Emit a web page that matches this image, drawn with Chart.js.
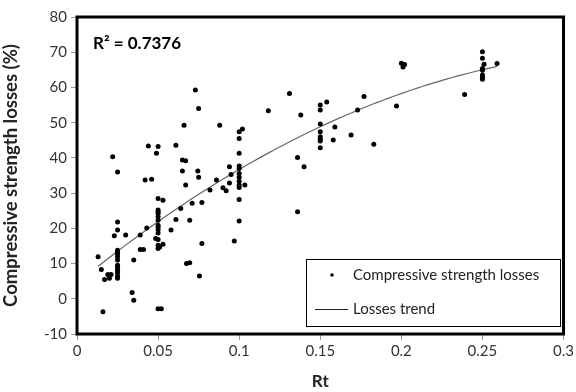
<!DOCTYPE html>
<html>
<head>
<meta charset="utf-8">
<script src="https://cdn.jsdelivr.net/npm/chart.js@4"></script>
<style>
  html, body { margin: 0; padding: 0; background: #fff; }
  #wrap { width: 576px; height: 392px; }
</style>
</head>
<body>
<div id="wrap"><canvas id="c" width="576" height="392"></canvas></div>
<script>
// Rt values (x) and compressive strength losses in % (y)
const rtValues = [
  0.013, 0.015, 0.016, 0.017, 0.019, 0.020, 0.021, 0.022, 0.023, 0.025,
  0.025, 0.025, 0.025, 0.025, 0.025, 0.025, 0.025, 0.025, 0.025, 0.025,
  0.025, 0.025, 0.025, 0.030, 0.034, 0.035, 0.035, 0.039, 0.041, 0.039,
  0.043, 0.042, 0.046, 0.044, 0.050, 0.049, 0.0485, 0.050, 0.050, 0.050,
  0.050, 0.050, 0.050, 0.050, 0.050, 0.050, 0.050, 0.050, 0.050, 0.050,
  0.053, 0.053, 0.051, 0.050, 0.052, 0.058, 0.061, 0.061, 0.064, 0.065,
  0.067, 0.065, 0.067, 0.066, 0.0675, 0.0695, 0.0695, 0.071, 0.073, 0.075,
  0.0745, 0.075, 0.0755, 0.077, 0.077, 0.082, 0.086, 0.088, 0.090, 0.092,
  0.094, 0.095, 0.094, 0.097, 0.100, 0.102, 0.100, 0.100, 0.100, 0.100,
  0.100, 0.100, 0.100, 0.100, 0.100, 0.100, 0.100, 0.1035, 0.118, 0.131,
  0.136, 0.136, 0.138, 0.140, 0.150, 0.150, 0.150, 0.150, 0.150, 0.150,
  0.150, 0.150, 0.154, 0.159, 0.158, 0.169, 0.173, 0.177, 0.183, 0.197,
  0.200, 0.201, 0.202, 0.239, 0.250, 0.250, 0.251, 0.250, 0.250, 0.250,
  0.250, 0.250, 0.259
];
const lossValues = [
  11.9, 8.3, -3.7, 5.5, 6.9, 5.8, 6.9, 40.3, 17.9, 36.0,
  21.8, 19.5, 13.8, 13.3, 12.7, 11.9, 11.0, 9.5, 8.9, 8.1,
  7.4, 6.5, 5.8, 18.1, 1.8, -0.4, 11.0, 14.0, 14.0, 18.1,
  20.1, 33.7, 33.9, 43.4, 43.2, 41.3, 17.1, 28.5, 25.2, 24.7,
  24.2, 23.3, 22.3, 20.9, 20.4, 19.7, 18.7, 16.8, 15.2, 14.3,
  28.0, 15.5, 14.7, -2.8, -2.8, 19.5, 22.5, 43.6, 25.6, 39.4,
  39.2, 36.3, 32.3, 49.3, 10.0, 10.2, 22.3, 27.1, 59.3, 54.0,
  36.3, 34.5, 6.5, 27.3, 15.7, 30.9, 33.7, 49.3, 31.5, 30.7,
  37.5, 35.3, 32.9, 16.4, 47.4, 48.2, 45.5, 41.3, 37.7, 37.0,
  35.6, 34.5, 33.4, 32.3, 31.6, 28.2, 22.1, 32.3, 53.4, 58.3,
  40.1, 24.7, 52.2, 37.5, 55.0, 53.6, 49.6, 47.4, 46.0, 45.3,
  44.8, 42.9, 55.9, 48.8, 45.1, 46.5, 53.6, 57.4, 43.9, 54.7,
  66.9, 65.8, 66.5, 58.0, 70.1, 68.3, 66.6, 65.4, 64.9, 63.5,
  62.9, 62.3, 66.8
];
const xTicks = [0, 0.05, 0.1, 0.15, 0.2, 0.25, 0.3];
const yTicks = [-10, 0, 10, 20, 30, 40, 50, 60, 70, 80];
const r2Label = 'R² = 0.7376';

const points = rtValues.map((x, i) => ({ x, y: lossValues[i] }));

// 2nd order least-squares trend, like the spreadsheet trendline
function quadFit(xs, ys) {
  let s = [0, 0, 0, 0, 0], t = [0, 0, 0];
  xs.forEach((x, i) => {
    for (let k = 0; k < 5; k++) s[k] += Math.pow(x, k);
    for (let k = 0; k < 3; k++) t[k] += ys[i] * Math.pow(x, k);
  });
  const m = [[s[0], s[1], s[2], t[0]], [s[1], s[2], s[3], t[1]], [s[2], s[3], s[4], t[2]]];
  for (let i = 0; i < 3; i++) {
    for (let j = i + 1; j < 3; j++) {
      const f = m[j][i] / m[i][i];
      for (let k = i; k < 4; k++) m[j][k] -= f * m[i][k];
    }
  }
  const c = [0, 0, 0];
  for (let i = 2; i >= 0; i--) {
    let v = m[i][3];
    for (let k = i + 1; k < 3; k++) v -= m[i][k] * c[k];
    c[i] = v / m[i][i];
  }
  return c;
}
const coef = quadFit(rtValues, lossValues);
const xMin = Math.min(...rtValues), xMax = Math.max(...rtValues);
const trend = [];
for (let i = 0; i <= 40; i++) {
  const x = xMin + (xMax - xMin) * i / 40;
  trend.push({ x, y: coef[0] + coef[1] * x + coef[2] * x * x });
}

const FONT = 'Lato, "Open Sans", sans-serif';

const framePlugin = {
  id: 'frame',
  afterDraw(chart) {
    const { ctx, chartArea: a } = chart;
    ctx.save();
    ctx.strokeStyle = '#000';
    ctx.lineWidth = 3;
    ctx.strokeRect(a.left, a.top, a.right - a.left, a.bottom - a.top);

    // R² label
    ctx.fillStyle = '#000';
    ctx.font = 'bold 17px ' + FONT;
    ctx.textBaseline = 'middle';
    ctx.fillText(r2Label, 93, 44);

    // legend box
    ctx.lineWidth = 1;
    ctx.fillStyle = '#fff';
    ctx.fillRect(306.5, 259.5, 254, 67);
    ctx.strokeStyle = '#000';
    ctx.strokeRect(306.5, 259.5, 254, 67);
    ctx.fillStyle = '#000';
    ctx.beginPath();
    ctx.arc(332, 275, 1.8, 0, Math.PI * 2);
    ctx.fill();
    ctx.strokeStyle = '#222';
    ctx.beginPath();
    ctx.moveTo(315, 309.5);
    ctx.lineTo(348, 309.5);
    ctx.stroke();
    ctx.font = '15px ' + FONT;
    ctx.fillStyle = '#222';
    ctx.fillText('Compressive strength losses', 353, 275);
    ctx.fillText('Losses trend', 353, 309);
    ctx.restore();
  }
};

new Chart(document.getElementById('c'), {
  type: 'scatter',
  data: {
    datasets: [
      {
        label: 'Compressive strength losses',
        data: points,
        pointRadius: 2.5,
        pointHoverRadius: 2.5,
        pointBackgroundColor: '#000',
        pointBorderWidth: 0,
        showLine: false
      },
      {
        label: 'Losses trend',
        data: trend,
        showLine: true,
        pointRadius: 0,
        borderColor: '#666',
        borderWidth: 1.2,
        tension: 0.3
      }
    ]
  },
  options: {
    responsive: false,
    animation: false,
    layout: { padding: { top: 17, right: 8, left: 0, bottom: 0 } },
    plugins: { legend: { display: false }, tooltip: { enabled: false } },
    scales: {
      x: {
        type: 'linear',
        min: 0,
        max: 0.3,
        afterBuildTicks: s => { s.ticks = xTicks.map(v => ({ value: v })); },
        afterFit: s => { s.height = 58; },
        grid: { drawOnChartArea: false, drawTicks: true, tickLength: 6, color: '#999' },
        border: { display: false },
        ticks: {
          color: '#333',
          font: { family: FONT, size: 15 },
          padding: 2,
          maxRotation: 0,
          callback: v => String(Number(v.toFixed(2)))
        },
        title: {
          display: true,
          text: 'Rt',
          color: '#222',
          font: { family: FONT, size: 17, weight: 'bold' },
          padding: { top: 2, bottom: 0 }
        }
      },
      y: {
        min: -10,
        max: 80,
        afterBuildTicks: s => { s.ticks = yTicks.map(v => ({ value: v })); },
        afterFit: s => { s.width = 77; },
        grid: { drawOnChartArea: false, drawTicks: true, tickLength: 6, color: '#999' },
        border: { display: false },
        ticks: {
          color: '#333',
          font: { family: FONT, size: 15 },
          padding: 4
        },
        title: {
          display: true,
          text: 'Compressive strength losses (%)',
          color: '#222',
          font: { family: FONT, size: 18.5, weight: 'bold' },
          padding: { top: 0, bottom: 1 }
        }
      }
    }
  },
  plugins: [framePlugin]
});
</script>
</body>
</html>
